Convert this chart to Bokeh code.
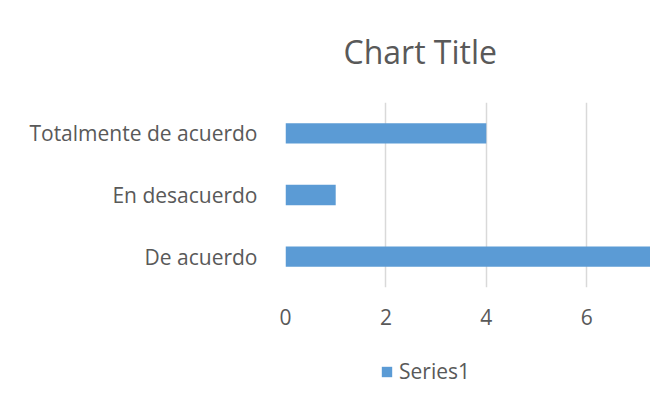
from bokeh.plotting import figure
from bokeh.layouts import column
from bokeh.models import FactorRange, Range1d, Legend, LegendItem, FixedTicker, ColumnDataSource
from bokeh.embed import file_html
from bokeh.resources import INLINE

categories = ["De acuerdo", "En desacuerdo", "Totalmente de acuerdo"]
series1 = [8, 1, 4]
x_ticks = [0, 2, 4, 6]
series_name = "Series1"

FONT = "Open Sans"
TXT = "#595959"
BAR = "#5B9BD5"
GRID = "#D9D9D9"

src = ColumnDataSource(dict(cat=categories, val=series1))

p = figure(frame_width=365, frame_height=185, output_backend="svg", toolbar_location=None,
           y_range=FactorRange(factors=categories), x_range=Range1d(0, 365 / 50.2),
           min_border_left=285, min_border_right=0, min_border_top=102, min_border_bottom=50,
           outline_line_color=None, background_fill_color="white", border_fill_color="white")

r = p.hbar(y="cat", right="val", left=0, height=0.33, source=src, color=BAR, line_color=None)

p.title.text = "Chart Title"
p.title.text_font = FONT
p.title.text_font_size = "32px"
p.title.text_font_style = "normal"
p.title.text_color = TXT
p.title.align = "left"
p.title.vertical_align = "middle"
p.title.offset = 58
p.title.standoff = 57

p.xaxis.ticker = FixedTicker(ticks=x_ticks)
p.xaxis.axis_line_color = None
p.xaxis.major_tick_line_color = None
p.xaxis.minor_tick_line_color = None
p.xaxis.major_label_text_font = FONT
p.xaxis.major_label_text_font_size = "21px"
p.xaxis.major_label_text_color = TXT
p.xaxis.major_label_standoff = 15

p.yaxis.axis_line_color = None
p.yaxis.major_tick_line_color = None
p.yaxis.minor_tick_line_color = None
p.yaxis.major_label_text_font = FONT
p.yaxis.major_label_text_font_size = "21px"
p.yaxis.major_label_text_color = TXT
p.yaxis.major_label_standoff = 22

p.xgrid.ticker = FixedTicker(ticks=x_ticks)
p.xgrid.grid_line_color = GRID
p.xgrid.grid_line_width = 1.5
p.ygrid.grid_line_color = None

# legend strip below the chart (same series, drawn off-view so only its legend swatch shows)
p2 = figure(width=650, height=74, output_backend="svg", toolbar_location=None,
            x_axis_type=None, y_axis_type=None,
            y_range=FactorRange(factors=categories), x_range=Range1d(-20, -19),
            min_border=0, outline_line_color=None,
            background_fill_color="white", border_fill_color="white")
r2 = p2.hbar(y="cat", right="val", left=0, height=0.33, source=src, color=BAR, line_color=None)
legend = Legend(items=[LegendItem(label=series_name, renderers=[r2])], location=(95, 26),
                orientation="horizontal", border_line_color=None, background_fill_alpha=0,
                padding=0, margin=0, glyph_width=13, glyph_height=13, label_standoff=6,
                label_text_font=FONT, label_text_font_size="21px", label_text_color=TXT)
p2.add_layout(legend, "center")

layout = column(p, p2, spacing=0)
open("out.html", "w").write(file_html(layout, INLINE))
